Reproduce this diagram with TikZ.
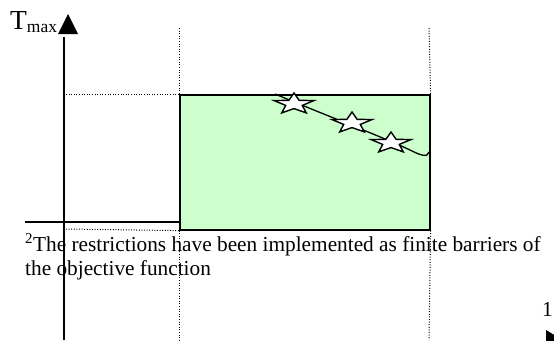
\documentclass[tikz,border=0pt]{standalone}
\usepackage{fontspec}
\setmainfont{Liberation Serif}
\usetikzlibrary{shapes.geometric}
\definecolor{feasible}{HTML}{CCFFCC}
\tikzset{
  axis/.style={line width=1.6pt, black},
  guide/.style={line width=1pt, dash pattern=on 1pt off 1.6pt, black},
  region/.style={draw=black, line width=1.6pt, fill=feasible},
  point/.style={star, star points=5, star point ratio=2.4, draw=black, line width=1.4pt,
                fill=white, minimum size=22pt, inner sep=0pt, transform shape},
  caption/.style={inner sep=0pt, font=\fontsize{21.3}{24}\selectfont}
}
\begin{document}
\begin{tikzpicture}[x=1pt, y=-1pt]
  \useasboundingbox (0,0) rectangle (554,340);

  % key points of the layout
  \coordinate (origin) at (64,340);
  \coordinate (ytop) at (64,37);
  \coordinate (lowL) at (25,222);
  \coordinate (lowR) at (179,222);

  % feasible region
  \node[region, minimum width=250pt, minimum height=135pt, anchor=north west, inner sep=0pt]
    (box) at (179,94) {};

  % dotted guide lines
  \draw[guide] (179,28) -- (box.north west);
  \draw[guide] (box.south west) -- (179,340);
  \draw[guide] (429,28) -- (box.north east);
  \draw[guide] (box.south east) -- (429,340);
  \draw[guide] (66,94) -- (box.north west);
  \draw[guide] (66,229) -- (box.south west);

  % vertical axis with its arrowhead
  \draw[axis] (origin) -- (ytop);
  \fill[black] (58,34) -- (68,14) -- (78,34) -- cycle;
  \node[anchor=base west, inner sep=0pt] (ylabel) at (10,29)
    {\fontsize{27.5}{28}\selectfont T\raisebox{-3pt}{\fontsize{17.5}{18}\selectfont max}};

  % lower bound line
  \draw[axis] (lowL) -- (lowR);

  % trajectory of the optimum with sample points
  \coordinate (c0) at (275,94);
  \coordinate (c1) at (429,152);
  \draw[line width=1.3pt] (c0) .. controls (330,117) and (390,140) .. (412,151)
     .. controls (420,155) and (428,158) .. (c1);
  \begin{scope}[shift={(294,104)}, xscale=1.9]
    \node[point] (p1) at (0,0) {};
  \end{scope}
  \begin{scope}[shift={(352,123)}, xscale=1.9]
    \node[point] (p2) at (0,0) {};
  \end{scope}
  \begin{scope}[shift={(391,143)}, xscale=1.9]
    \node[point] (p3) at (0,0) {};
  \end{scope}

  % footnote text
  \node[caption, anchor=base west] (note1) at (25,251)
    {\textsuperscript{2}The restrictions have been implemented as finite barriers of};
  \node[caption, anchor=base west] (note2) at (25,275) {the objective function};

  % page number and clipped arrowhead
  \node[caption, anchor=base west] (pagenum) at (542,316) {1};
  \begin{scope}
    \clip (0,0) rectangle (554,340);
    \fill[black] (546,330) -- (566,342) -- (546,354) -- cycle;
  \end{scope}
\end{tikzpicture}
\end{document}
